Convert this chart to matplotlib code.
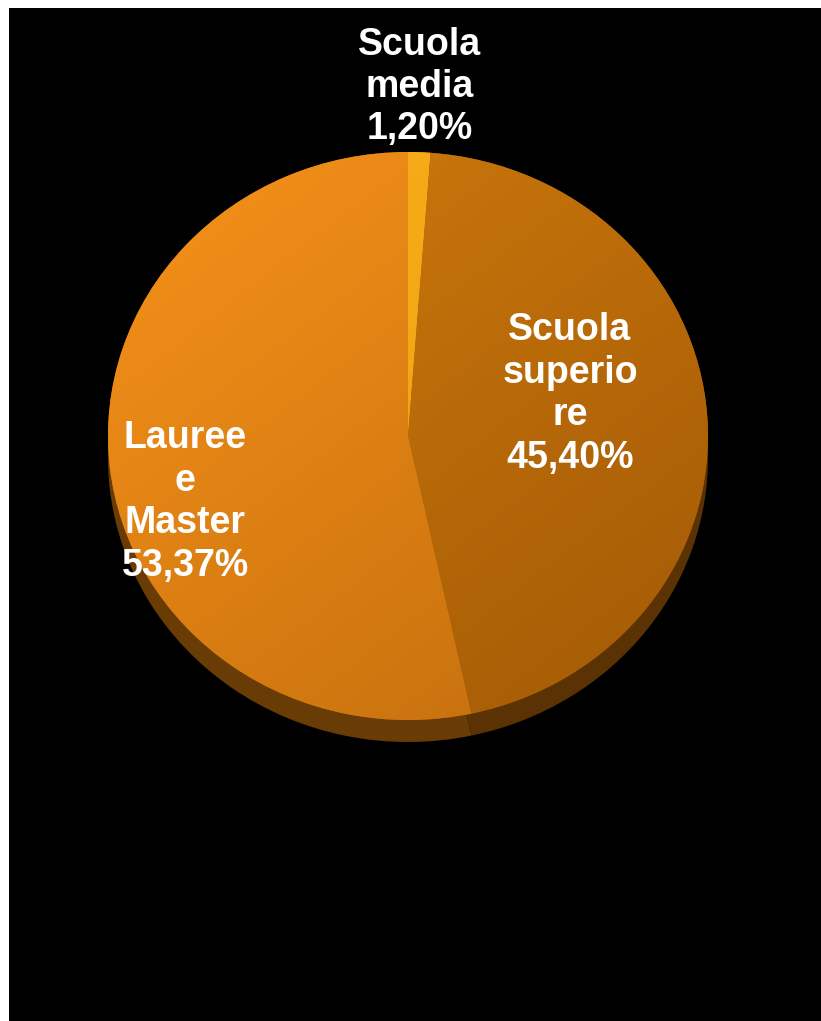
import numpy as np
import matplotlib
matplotlib.use('Agg')
import matplotlib.pyplot as plt
from matplotlib.colors import LinearSegmentedColormap

# dati
categorie = ["Scuola media", "Scuola superiore", "Lauree e Master"]
valori = [1.20, 45.40, 53.37]
etichette = ["Scuola\nmedia\n1,20%", "Scuola\nsuperio\nre\n45,40%", "Lauree\ne\nMaster\n53,37%"]

# colori chiaro -> scuro per ogni fetta
colori = [("#F7B01A", "#EE9C0E"), ("#D27C0C", "#A25A06"), ("#F7921A", "#C06C0C")]
colori_bordo = [("#B67A10", "#8A5606"), ("#7E4806", "#5A3204"), ("#9A5A0A", "#6A3C05")]

W, H = 821, 1021
fig = plt.figure(figsize=(W / 100, H / 100), dpi=100, facecolor="white")

# sfondo nero
bg = fig.add_axes([9 / W, 0, 1 - 9 / W, 1 - 8 / H])
bg.set_facecolor("black")
bg.set_xticks([])
bg.set_yticks([])
for s in bg.spines.values():
    s.set_visible(False)

# asse della torta (ellisse 600x568 px)
cx, cy, rx, ry = 408, 436, 300, 284
ax = fig.add_axes([(cx - rx) / W, (H - cy - ry) / H, 2 * rx / W, 2 * ry / H])
ax.axis("off")

# bordo 3D sotto la torta
spessore = 22 / ry
wb, _ = ax.pie(valori, startangle=90, counterclock=False, radius=1,
               center=(0, -spessore), frame=False)
for w, (c1, c2) in zip(wb, colori_bordo):
    w.set_facecolor(c2)
    w.set_edgecolor("none")
    w.set_clip_on(False)

# faccia superiore con gradiente
wedges, _ = ax.pie(valori, startangle=90, counterclock=False, radius=1, frame=False)
yy, xx = np.mgrid[1:-1:200j, -1:1:200j]
grad = np.clip((0.55 * (1 - yy) + 0.45 * (xx + 1)) / 2, 0, 1)
for w, (c1, c2) in zip(wedges, colori):
    w.set_facecolor(c2)
    w.set_edgecolor("none")
    cmap = LinearSegmentedColormap.from_list("g", [c1, c2])
    im = ax.imshow(grad, cmap=cmap, extent=(-1, 1, -1, 1), aspect="auto",
                   vmin=0, vmax=1, zorder=2)
    im.set_clip_path(w)
ax.set_xlim(-1, 1)
ax.set_ylim(-1, 1)
ax.set_aspect("auto")

# etichette
pos_etichette = [(420, 87), (570, 394), (185, 502)]
for testo, (x, y) in zip(etichette, pos_etichette):
    fig.text(x / W, 1 - y / H, testo, ha="center", va="center", color="white",
             fontsize=27, fontweight="bold", family="Liberation Sans",
             linespacing=1.23, zorder=5)

fig.savefig("out.png", dpi=100, facecolor="white")
